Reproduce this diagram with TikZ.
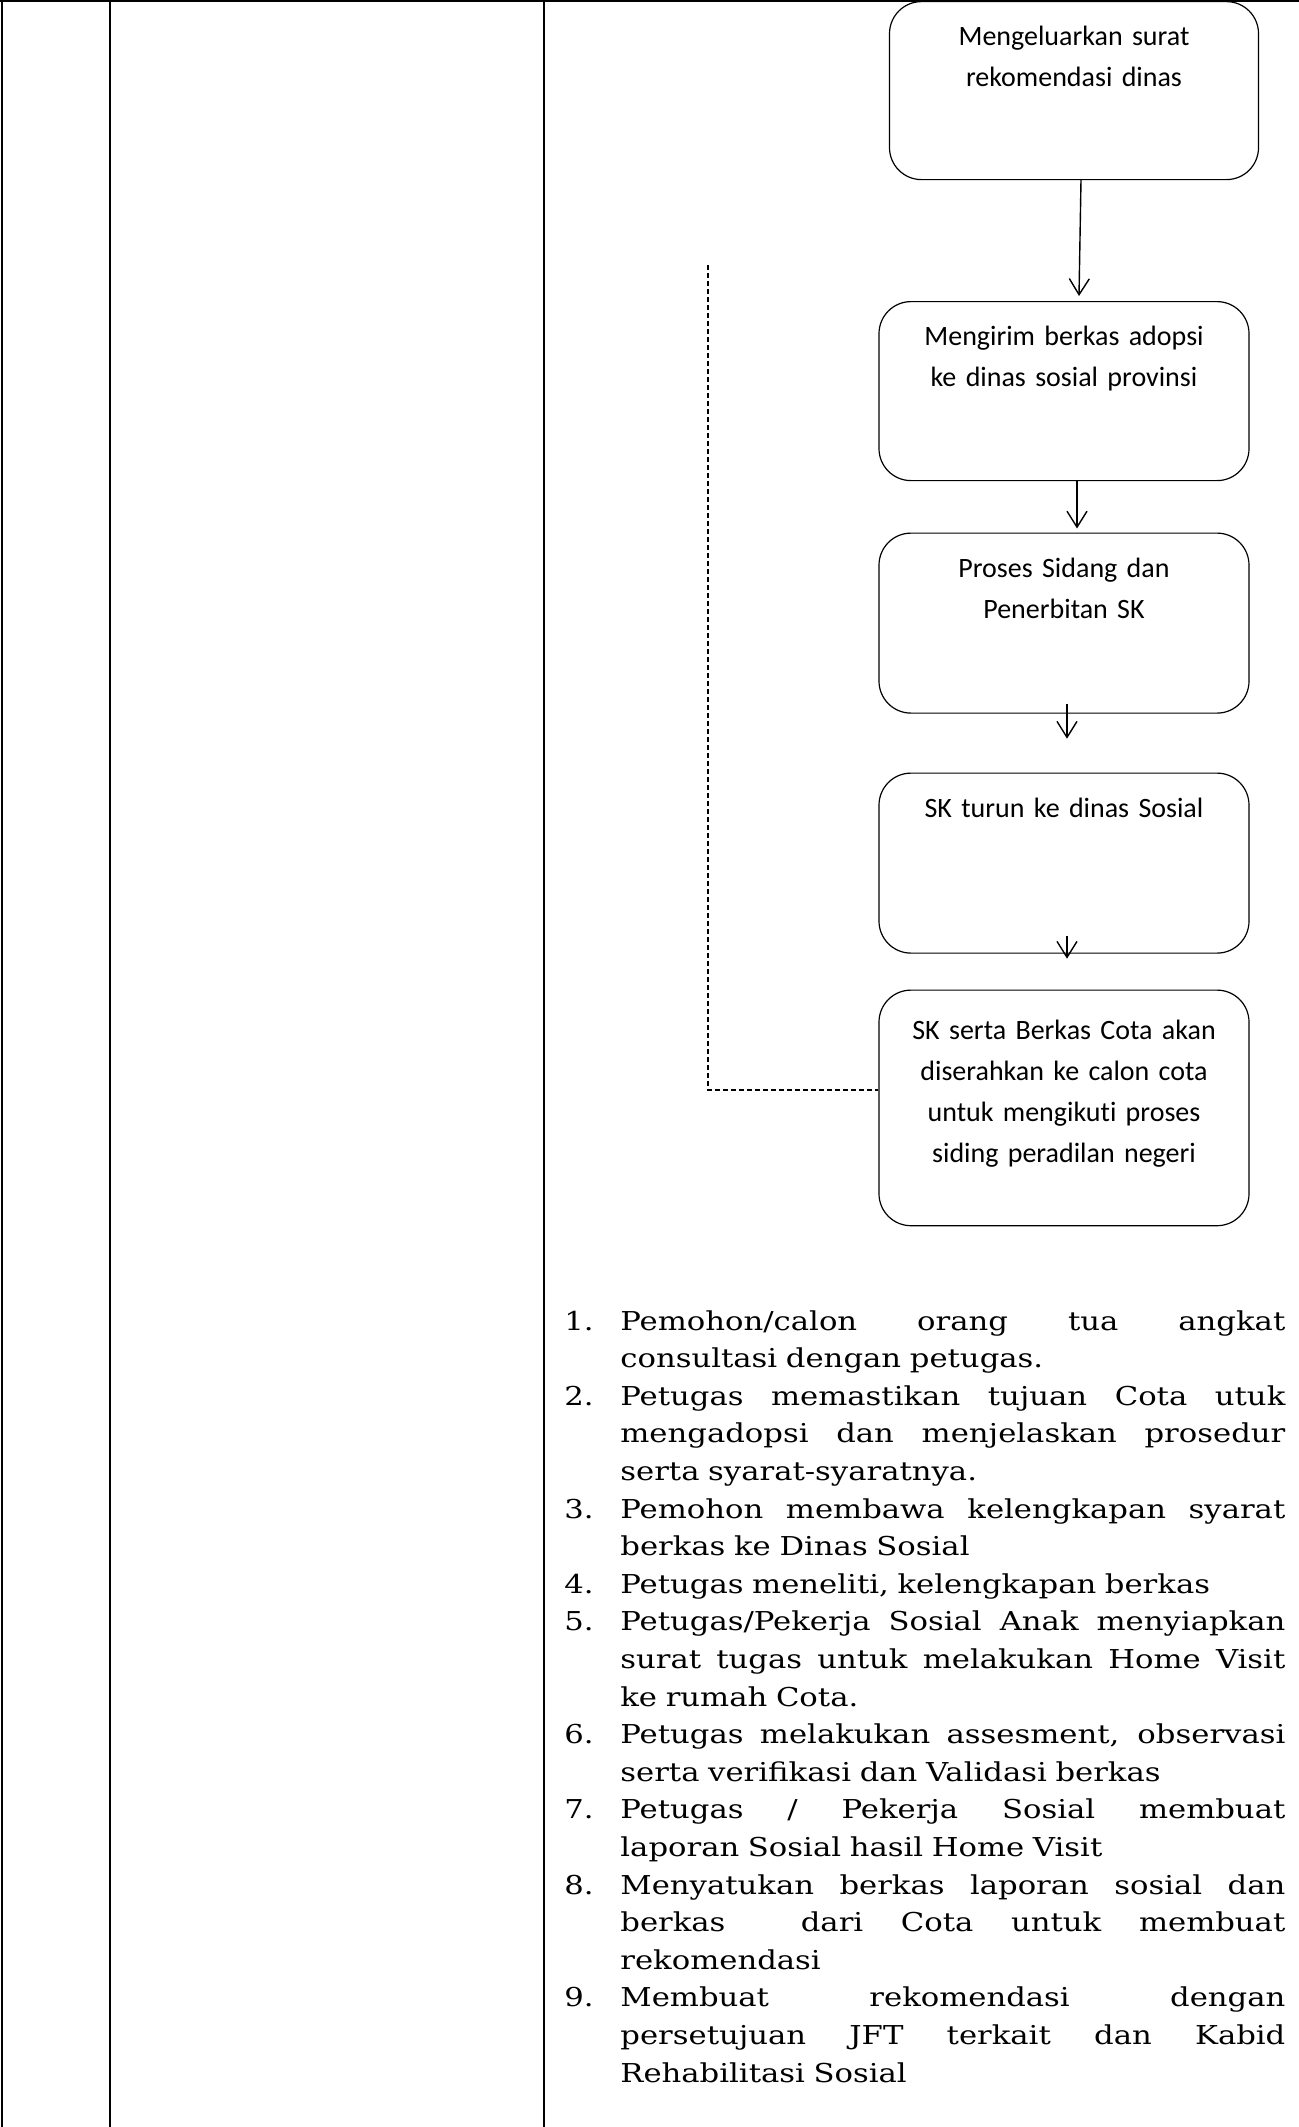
\documentclass[tikz,border=0pt]{standalone}
\usepackage{fontspec}
\setmainfont[FakeStretch=1.18]{DejaVu Serif}
\newfontfamily\boxfont[Ligatures=NoCommon]{Carlito}
\usetikzlibrary{arrows.meta,calc}

% one justified line, one numbered line, one last line of an item
\newcommand{\fullline}[1]{{\spaceskip=0pt\xspaceskip=0pt\makebox[332.5pt][s]{#1}}}
\newcommand{\itemline}[2]{\makebox[28pt][l]{#1}\fullline{#2}}
\newcommand{\restline}[1]{\hspace*{28pt}#1}

\tikzset{
  rule/.style={line width=1.1pt},
  flowbox/.style={draw, line width=0.6pt, rounded corners=16pt, fill=white,
    inner sep=0pt, anchor=north, align=center, text width=185pt,
    font=\boxfont\fontsize{14}{20.5}\selectfont, text height=22pt},
  flowarrow/.style={line width=0.7pt, -{Straight Barb[length=8pt,width=10pt]}},
  backline/.style={line width=0.85pt, dash pattern=on 2.5pt off 1.5pt},
  steptext/.style={inner sep=0pt, text width=360.5pt, align=left, anchor=base west,
    font=\fontsize{13}{18.8}\selectfont}
}

\begin{document}
\begin{tikzpicture}[x=0.5pt,y=-0.5pt]
  \useasboundingbox (0,0) rectangle (1299,2127);
  % table frame
  \draw[line width=0.7pt] (0,1) -- (1299,1);
  \draw[rule] (2,0) -- (2,2127);
  \draw[rule] (110,0) -- (110,2127);
  \draw[rule] (544,0) -- (544,2127);

  % flow
  \node[flowbox, text width=184.5pt, text depth=67pt] (b1) at (1074,1)
    {Mengeluarkan surat\\rekomendasi dinas};
  \node[flowbox, text depth=67.5pt] (b2) at (1064,301)
    {Mengirim berkas adopsi\\ke dinas sosial provinsi};
  \node[flowbox, text depth=68pt] (b3) at (1064,532.5)
    {Proses Sidang dan\\Penerbitan SK};
  \node[flowbox, text depth=68pt] (b4) at (1064,772.5)
    {SK turun ke dinas Sosial};
  \node[flowbox, text height=24.5pt, text depth=93.3pt] (b5) at (1064,989.5)
    {SK serta Berkas Cota akan\\diserahkan ke calon cota\\untuk mengikuti proses\\siding peradilan negeri};

  \draw[flowarrow] ($(b1.south)+(7,0)$) -- ($(b2.north)+(15,-5)$);
  \draw[flowarrow] ($(b2.south)+(13,0)$) -- ($(b3.north)+(13,-4)$);
  \draw[flowarrow] ($(b3.south)+(3,-10)$) -- ($(b3.south)+(3,25)$);
  \draw[flowarrow] ($(b4.south)+(3,-18)$) -- ($(b4.south)+(3,5)$);

  \coordinate (back) at (708,265);
  \draw[backline] (back) |- ($(b5.west)+(0,-18)$);

  % steps
  \node[steptext] (steps) at (564,1330) {%
    \itemline{1.}{Pemohon/calon orang tua angkat}\\
    \restline{consultasi dengan petugas.}\\
    \itemline{2.}{Petugas memastikan tujuan Cota utuk}\\
    \restline{\fullline{mengadopsi dan menjelaskan prosedur}}\\
    \restline{serta syarat-syaratnya.}\\
    \itemline{3.}{Pemohon membawa kelengkapan syarat}\\
    \restline{berkas ke Dinas Sosial}\\
    \makebox[28pt][l]{4.}Petugas meneliti, kelengkapan berkas\\
    \itemline{5.}{Petugas/Pekerja Sosial Anak menyiapkan}\\
    \restline{\fullline{surat tugas untuk melakukan Home Visit}}\\
    \restline{ke rumah Cota.}\\
    \itemline{6.}{Petugas melakukan assesment, observasi}\\
    \restline{serta verifikasi dan Validasi berkas}\\
    \itemline{7.}{Petugas / Pekerja Sosial membuat}\\
    \restline{laporan Sosial hasil Home Visit}\\
    \itemline{8.}{Menyatukan berkas laporan sosial dan}\\
    \restline{\fullline{berkas\ \ dari Cota untuk membuat}}\\
    \restline{rekomendasi}\\
    \itemline{9.}{Membuat rekomendasi dengan}\\
    \restline{\fullline{persetujuan JFT terkait dan Kabid}}\\
    \restline{Rehabilitasi Sosial}};
\end{tikzpicture}
\end{document}
